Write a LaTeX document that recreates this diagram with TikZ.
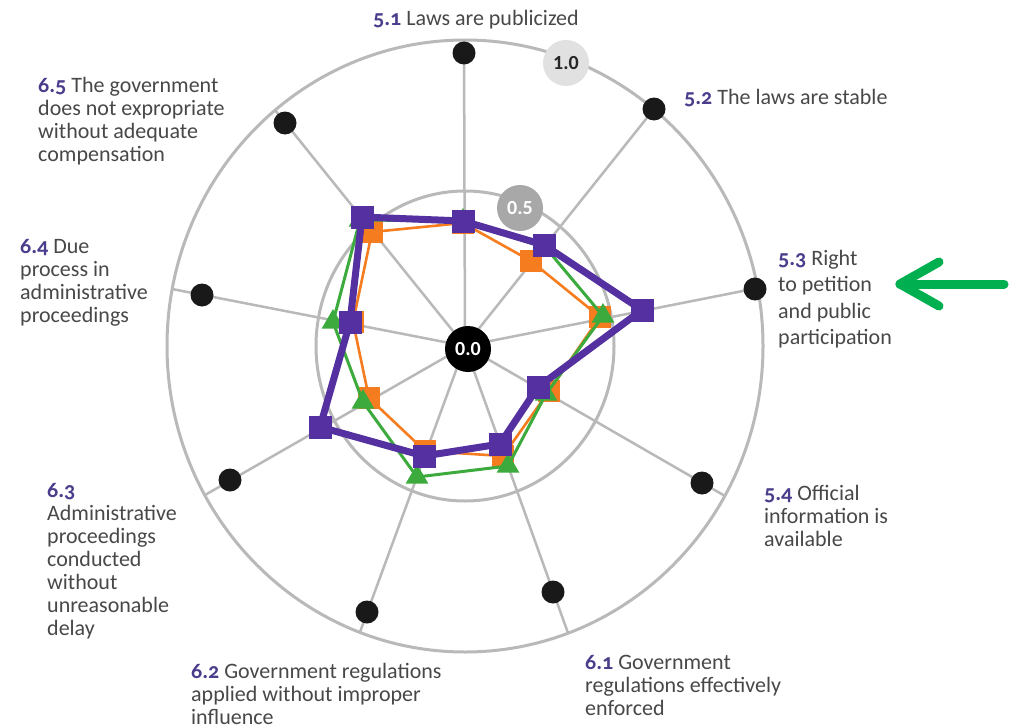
\documentclass[tikz,border=0pt]{standalone}
\usepackage{fontspec}
\setmainfont{Carlito}
\newfontfamily\numfont{Carlito}[Numbers=OldStyle]
\usetikzlibrary{shapes.geometric,calc}
\definecolor{pur}{RGB}{84,48,160}
\definecolor{ora}{RGB}{245,125,32}
\definecolor{grn}{RGB}{60,170,60}
\definecolor{gridc}{RGB}{185,185,185}
\definecolor{txtc}{RGB}{72,72,72}
\definecolor{numc}{RGB}{75,60,140}
\definecolor{arrowc}{RGB}{0,176,80}
\definecolor{halfc}{RGB}{168,168,168}
\definecolor{onec}{RGB}{225,225,225}
\newcommand\nb[1]{{\numfont\bfseries\color{numc}#1}}
\tikzset{
  spoke/.style={draw=gridc,line width=2.5pt},
  ring/.style={draw=gridc,line width=3pt},
  dotmark/.style={circle,fill=black!90,inner sep=0pt,minimum size=23pt},
  scalelbl/.style={circle,inner sep=0pt,minimum size=46pt,font=\bfseries\fontsize{20}{20}\selectfont},
  lbl/.style={anchor=north west,inner sep=0pt,align=left,text=txtc,font=\fontsize{22}{23}\selectfont},
  oline/.style={draw=ora,line width=2.6pt,line join=round},
  gline/.style={draw=grn,line width=3pt,line join=round},
  pline/.style={draw=pur,line width=7pt,line join=round},
  osq/.style={rectangle,fill=ora,inner sep=0pt,minimum size=22pt},
  gtri/.style={regular polygon,regular polygon sides=3,fill=grn,inner sep=0pt,minimum size=26pt},
  psq/.style={rectangle,fill=pur,inner sep=0pt,minimum size=23pt},
  greenarrow/.style={draw=arrowc,line width=9pt,line cap=round,line join=round}
}
\begin{document}
\begin{tikzpicture}[x=1pt,y=-1pt]
\useasboundingbox (0,0) rectangle (1009,725);
\fill[white] (0,0) rectangle (1009,725);
\coordinate (c) at (465,346);
% spoke ends on the outer ring
\coordinate (e1) at (464,40);
\coordinate (e2) at (654,109);
\coordinate (e3) at (758,288);
\coordinate (e4) at (725,496);
\coordinate (e5) at (568,633);
\coordinate (e6) at (360,632);
\coordinate (e7) at (205,495);
\coordinate (e8) at (172,289);
\coordinate (e9) at (275,110);
\foreach \i in {1,...,9}{\draw[spoke] (c) -- (e\i);}
\draw[ring] (c) ellipse [x radius=298,y radius=306];
\draw[ring] (c) ellipse [x radius=149,y radius=155];
% reference dots
\node[dotmark] (d1) at (464,53) {};
\node[dotmark] (d2) at (654,109) {};
\node[dotmark] (d3) at (755,289) {};
\node[dotmark] (d4) at (702,483) {};
\node[dotmark] (d5) at (553,592) {};
\node[dotmark] (d6) at (367,612) {};
\node[dotmark] (d7) at (230,480) {};
\node[dotmark] (d8) at (202,295) {};
\node[dotmark] (d9) at (285,123) {};
% scale labels
\node[scalelbl,fill=black,text=white] (zero) at (468,349) {0.0};
\node[scalelbl,fill=halfc,text=white] (half) at (520,208) {0.5};
\node[scalelbl,fill=onec,text=black!85] (one) at (566,63) {1.0};
% orange series
\coordinate (o1) at (463,223);
\coordinate (o2) at (531,261);
\coordinate (o3) at (600,317);
\coordinate (o4) at (549,391);
\coordinate (o5) at (503,456);
\coordinate (o6) at (425,451);
\coordinate (o7) at (369,398);
\coordinate (o8) at (353,322);
\coordinate (o9) at (372,232);
\draw[oline] (o1) -- (o2) -- (o3) -- (o4) -- (o5) -- (o6) -- (o7) -- (o8) -- (o9) -- cycle;
\foreach \i in {1,...,9}{\node[osq] (om\i) at (o\i) {};}
% green series
\coordinate (g1) at (463,221);
\coordinate (g2) at (546,248);
\coordinate (g3) at (603,316);
\coordinate (g4) at (546,394);
\coordinate (g5) at (508,466);
\coordinate (g6) at (417,477);
\coordinate (g7) at (363,402);
\coordinate (g8) at (333,322);
\coordinate (g9) at (360,220);
\draw[gline] (g1) -- (g2) -- (g3) -- (g4) -- (g5) -- (g6) -- (g7) -- (g8) -- (g9) -- cycle;
\foreach \i in {1,...,9}{\node[gtri] (gm\i) at (g\i) {};}
% purple series
\coordinate (p1) at (463,221);
\coordinate (p2) at (544,245);
\coordinate (p3) at (642,310);
\coordinate (p4) at (538,387);
\coordinate (p5) at (500,444);
\coordinate (p6) at (424,456);
\coordinate (p7) at (320,427);
\coordinate (p8) at (350,322);
\coordinate (p9) at (362,217);
\draw[pline] (p1) -- (p2) -- (p3) -- (p4) -- (p5) -- (p6) -- (p7) -- (p8) -- (p9) -- cycle;
\foreach \i in {1,...,9}{\node[psq] (pm\i) at (p\i) {};}
% labels
\node[lbl] (l51) at (373,10) {\nb{5.1} Laws are publicized};
\node[lbl] (l52) at (684,89) {\nb{5.2} The laws are stable};
\node[lbl,font=\fontsize{22}{26.5}\selectfont] (l53) at (778,250) {\nb{5.3} Right\\to petition\\and public\\participation};
\node[lbl] (l54) at (764,485) {\nb{5.4} Official\\information is\\available};
\node[lbl] (l61) at (585,655) {\nb{6.1} Government\\regulations effectively\\enforced};
\node[lbl] (l62) at (191,663) {\nb{6.2} Government regulations\\applied without improper\\influence};
\node[lbl] (l63) at (47,483) {\nb{6.3}\\Administrative\\proceedings\\conducted\\without\\unreasonable\\delay};
\node[lbl] (l64) at (20,239) {\nb{6.4} Due\\process in\\administrative\\proceedings};
\node[lbl] (l65) at (38,77) {\nb{6.5} The government\\does not expropriate\\without adequate\\compensation};
% green arrow
\coordinate (atail) at (1004,284);
\coordinate (ahead) at (900,284);
\coordinate (aup) at (939,262);
\coordinate (adn) at (939,306);
\draw[greenarrow] (atail) -- (ahead);
\draw[greenarrow] (aup) -- (ahead) -- (adn);
\end{tikzpicture}
\end{document}
